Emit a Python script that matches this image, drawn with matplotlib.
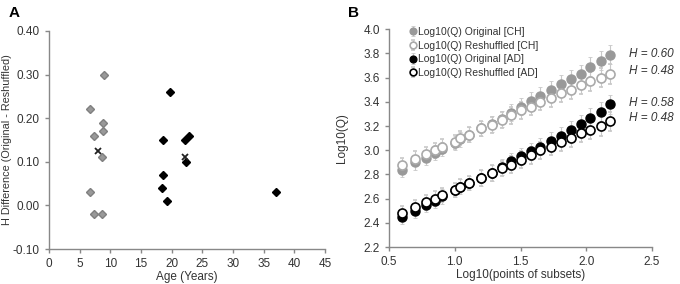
import matplotlib.pyplot as plt

# Panel A: H difference vs age
ch_age = [6.7, 7.3, 8.8, 8.8, 8.6, 9.0, 6.7, 7.4, 8.7]
ch_hdiff = [0.22, 0.16, 0.19, 0.17, 0.11, 0.30, 0.03, -0.02, -0.02]
ad_age = [19.7, 18.6, 22.2, 22.9, 22.3, 18.6, 18.5, 19.3, 37.0]
ad_hdiff = [0.26, 0.15, 0.15, 0.16, 0.10, 0.07, 0.04, 0.01, 0.03]
mean_age = [8.0, 22.1]
mean_hdiff = [0.125, 0.11]

# Panel B: log10(Q) vs log10(points of subsets)
logn = [0.60, 0.70, 0.78, 0.85, 0.90, 1.00, 1.04, 1.11, 1.20, 1.28, 1.36,
        1.43, 1.50, 1.58, 1.65, 1.73, 1.81, 1.88, 1.96, 2.03, 2.11, 2.18]
ch_orig = [2.84, 2.90, 2.94, 2.98, 3.01, 3.06, 3.09, 3.13, 3.18, 3.22, 3.26,
           3.31, 3.36, 3.41, 3.45, 3.50, 3.55, 3.59, 3.63, 3.69, 3.74, 3.79]
ch_shuf = [2.88, 2.93, 2.97, 3.00, 3.03, 3.07, 3.10, 3.13, 3.18, 3.21, 3.25,
           3.29, 3.33, 3.36, 3.40, 3.43, 3.47, 3.50, 3.54, 3.57, 3.60, 3.63]
ad_orig = [2.45, 2.50, 2.55, 2.58, 2.62, 2.67, 2.70, 2.73, 2.77, 2.81, 2.86,
           2.91, 2.95, 2.99, 3.03, 3.08, 3.12, 3.17, 3.22, 3.27, 3.32, 3.38]
ad_shuf = [2.48, 2.53, 2.57, 2.60, 2.63, 2.67, 2.70, 2.73, 2.77, 2.81, 2.85,
           2.88, 2.92, 2.96, 3.00, 3.03, 3.07, 3.10, 3.14, 3.17, 3.20, 3.24]
err = [0.06, 0.06, 0.06, 0.06, 0.06, 0.06, 0.06, 0.06, 0.065, 0.065, 0.065,
       0.07, 0.07, 0.07, 0.07, 0.07, 0.075, 0.075, 0.075, 0.08, 0.08, 0.08]
h_labels = ["H = 0.60", "H = 0.48", "H = 0.58", "H = 0.48"]

txt = "#333333"
spine = "#888888"
plt.rcParams['font.family'] = ['Liberation Sans', 'DejaVu Sans']
plt.rcParams['font.size'] = 8

fig = plt.figure(figsize=(6.8, 2.84), dpi=100)
axA = fig.add_axes([0.072, 0.123, 0.406, 0.768])
axB = fig.add_axes([0.572, 0.130, 0.387, 0.767])

def style(ax):
    for s in ['top', 'right']:
        ax.spines[s].set_visible(False)
    for s in ['left', 'bottom']:
        ax.spines[s].set_color(spine)
        ax.spines[s].set_linewidth(1.0)
    ax.tick_params(colors=spine, labelcolor=txt, labelsize=8.5, length=3, width=1)

# A
axA.plot(ch_age, ch_hdiff, 'D', color='#999999', mec='#808080', ms=4.5, ls='none')
axA.plot(ad_age, ad_hdiff, 'D', color='black', ms=4.5, ls='none')
axA.plot(mean_age, mean_hdiff, 'x', color='#222222', ms=5, mew=1.3, ls='none')
axA.set_xlim(0, 45)
axA.set_ylim(-0.1, 0.4)
axA.set_xticks(range(0, 46, 5))
axA.set_yticks([-0.1, 0.0, 0.1, 0.2, 0.3, 0.4])
axA.set_yticklabels(['-0.10', '0.00', '0.10', '0.20', '0.30', '0.40'])
axA.set_xlabel('Age (Years)', color=txt, fontsize=8.5, labelpad=1)
axA.set_ylabel('H Difference (Original - Reshuffled)', color=txt, fontsize=7.8)
axA.yaxis.set_label_coords(-0.135, 0.5)
style(axA)

# B
ebkw = dict(ecolor='#c8c8c8', elinewidth=0.8, capsize=1.2, capthick=0.6, ls='none', ms=6.5)
axB.errorbar(logn, ch_orig, yerr=err, fmt='o', color='#999999', mec='#999999',
             label='Log10(Q) Original [CH]', **ebkw)
axB.errorbar(logn, ch_shuf, yerr=err, fmt='o', mfc='white', mec='#aaaaaa', mew=1.2,
             label='Log10(Q) Reshuffled [CH]', **ebkw)
axB.errorbar(logn, ad_orig, yerr=err, fmt='o', color='black', mec='black',
             label='Log10(Q) Original [AD]', **ebkw)
axB.errorbar(logn, ad_shuf, yerr=err, fmt='o', mfc='white', mec='black', mew=1.2,
             label='Log10(Q) Reshuffled [AD]', **ebkw)
axB.set_xlim(0.5, 2.5)
axB.set_ylim(2.2, 4.0)
axB.set_xticks([0.5, 1.0, 1.5, 2.0, 2.5])
axB.set_yticks([2.2, 2.4, 2.6, 2.8, 3.0, 3.2, 3.4, 3.6, 3.8, 4.0])
axB.xaxis.set_major_formatter('{x:.1f}')
axB.yaxis.set_major_formatter('{x:.1f}')
axB.set_xlabel('Log10(points of subsets)', color=txt, fontsize=8.5, labelpad=1)
axB.set_ylabel('Log10(Q)', color=txt, fontsize=8.5)
axB.yaxis.set_label_coords(-0.155, 0.5)
style(axB)
leg = axB.legend(loc='upper left', bbox_to_anchor=(0.06, 1.03), frameon=False,
                 fontsize=7.5, handletextpad=0.1, labelspacing=0.35, borderaxespad=0,
                 handlelength=0.8, markerscale=0.75)
for t in leg.get_texts():
    t.set_color(txt)

for lab, yp in zip(h_labels, [54, 71, 103, 118]):
    fig.text(0.99, 1 - yp / 284, lab, ha='right', va='center', style='italic',
             color=txt, fontsize=8.5)

fig.text(0.012, 0.955, 'A', fontsize=11, fontweight='bold', va='center')
fig.text(0.512, 0.955, 'B', fontsize=11, fontweight='bold', va='center')

fig.savefig('out.png', dpi=100)
